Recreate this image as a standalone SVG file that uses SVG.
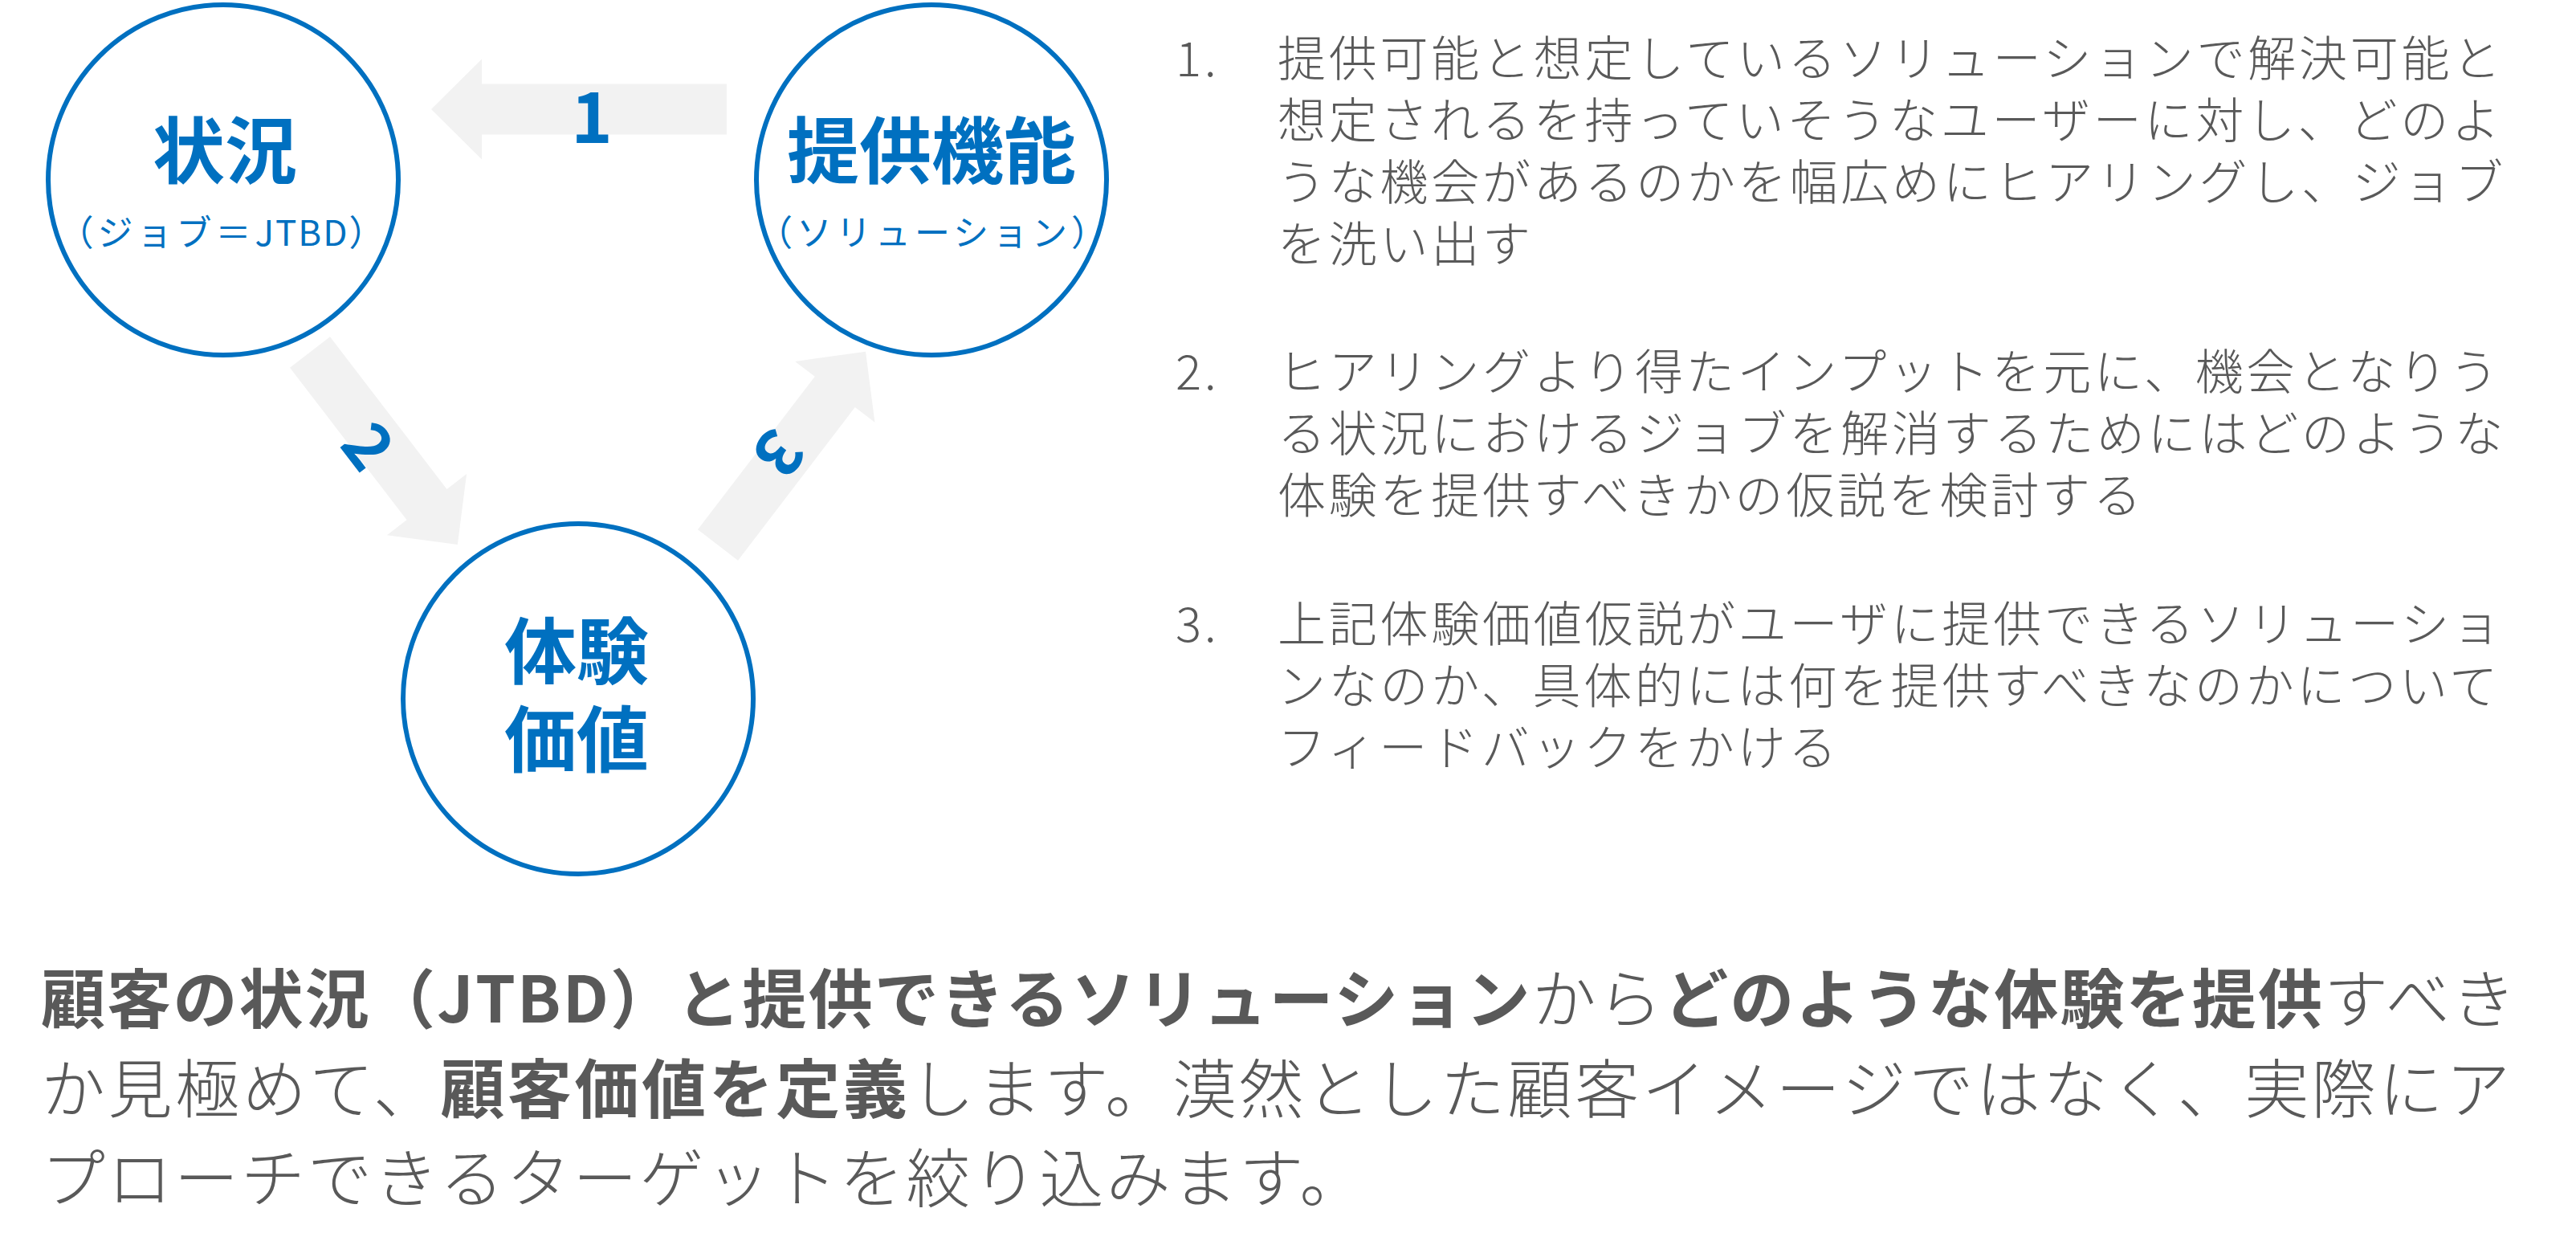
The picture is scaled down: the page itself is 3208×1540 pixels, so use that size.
<svg xmlns="http://www.w3.org/2000/svg" width="3208" height="1540" viewBox="0 0 3208 1540">
<style>
.node circle{fill:#fff;stroke:#0070C0;stroke-width:6}
.title{font-family:"Noto Sans CJK JP","Noto Sans",sans-serif;font-weight:700;font-size:90px;fill:#0070C0;text-anchor:middle}
.sub{font-family:"Noto Sans CJK JP","Noto Sans",sans-serif;font-weight:400;font-size:44px;letter-spacing:5px;fill:#0070C0;text-anchor:middle}
.arrow{fill:#F2F2F2}
.num{font-family:"Noto Sans CJK JP","Noto Sans",sans-serif;font-weight:700;font-size:80px;fill:#0070C0;text-anchor:middle}
.list{font-family:"Noto Sans CJK JP","Noto Sans",sans-serif;font-weight:300;font-size:60px;letter-spacing:3.75px;fill:#595959}
.body{font-family:"Noto Sans CJK JP","Noto Sans",sans-serif;font-weight:300;font-size:80px;fill:#595959}
.b{font-weight:700}
</style>
<g id="connectors">
  <g id="arrow1" transform="translate(905,136) rotate(180)">
    <polygon class="arrow" points="0,-31.5 305,-31.5 305,-62.5 368,0 305,62.5 305,31.5 0,31.5"/>
  </g>
  <g id="arrow2" transform="translate(386,438.5) rotate(52.5)">
    <polygon class="arrow" points="0,-31.5 239,-31.5 239,-62.5 302,0 239,62.5 239,31.5 0,31.5"/>
  </g>
  <g id="arrow3" transform="translate(894,678.5) rotate(-52.6)">
    <polygon class="arrow" points="0,-31.5 240,-31.5 240,-62.5 303,0 240,62.5 240,31.5 0,31.5"/>
  </g>
  <text class="num" x="737" y="178" style="font-size:88px">1</text>
  <text class="num" transform="translate(458,556) rotate(52.5)" x="0" y="28">2</text>
  <text class="num" transform="translate(969,564) rotate(127.5)" x="0" y="28">3</text>
</g>
<g id="node-situation" class="node">
  <circle cx="278" cy="224" r="218"/>
  <text class="title" x="280" y="221">状況</text>
  <text class="sub" x="278" y="306">（ジョブ＝<tspan style="letter-spacing:2px">JTBD</tspan>）</text>
</g>
<g id="node-solution" class="node">
  <circle cx="1160" cy="224" r="218"/>
  <text class="title" x="1160" y="221">提供機能</text>
  <text class="sub" x="1163" y="306">（ソリューション）</text>
</g>
<g id="node-experience" class="node">
  <circle cx="720" cy="870" r="218"/>
  <text class="title" x="718" y="844">体験</text>
  <text class="title" x="718" y="954">価値</text>
</g>
<g id="steps">
  <text class="list" x="1464" y="95">1.</text>
  <text class="list" x="1591" y="95">提供可能と想定しているソリューションで解決可能と</text>
  <text class="list" x="1591" y="172">想定されるを持っていそうなユーザーに対し、どのよ</text>
  <text class="list" x="1591" y="249">うな機会があるのかを幅広めにヒアリングし、ジョブ</text>
  <text class="list" x="1591" y="326">を洗い出す</text>
  <text class="list" x="1464" y="485">2.</text>
  <text class="list" x="1591" y="485">ヒアリングより得たインプットを元に、機会となりう</text>
  <text class="list" x="1591" y="562">る状況におけるジョブを解消するためにはどのような</text>
  <text class="list" x="1591" y="639">体験を提供すべきかの仮説を検討する</text>
  <text class="list" x="1464" y="799">3.</text>
  <text class="list" x="1591" y="799">上記体験価値仮説がユーザに提供できるソリューショ</text>
  <text class="list" x="1591" y="876">ンなのか、具体的には何を提供すべきなのかについて</text>
  <text class="list" x="1591" y="953">フィードバックをかける</text>
</g>
<g id="summary">
  <text class="body" x="51" y="1273" textLength="3082" lengthAdjust="spacing"><tspan class="b">顧客の状況（JTBD）と提供できるソリューション</tspan>から<tspan class="b">どのような体験を提供</tspan>すべき</text>
  <text class="body" x="51" y="1385" textLength="3075" lengthAdjust="spacing">か見極めて、<tspan class="b">顧客価値を定義</tspan>します。漠然とした顧客イメージではなく、実際にア</text>
  <text class="body" x="51" y="1496" style="letter-spacing:3px">プローチできるターゲットを絞り込みます。</text>
</g>
</svg>
